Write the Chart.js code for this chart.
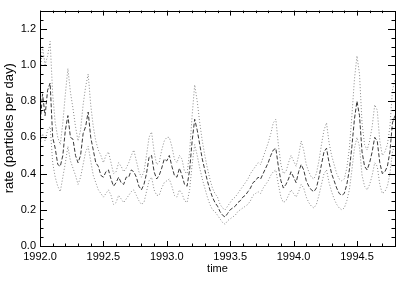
<!DOCTYPE html>
<html>
<head>
<meta charset="utf-8">
<script src="https://cdn.jsdelivr.net/npm/chart.js"></script>
<style>
html,body{margin:0;padding:0;background:#fff;}
#c{display:block;}
</style>
</head>
<body>
<canvas id="c" width="415" height="283" style="width:415px;height:283px"></canvas>
<script>
// time samples (years)
const years = [
1992.00,1992.02,1992.04,1992.06,1992.08,1992.10,1992.12,1992.14,1992.16,1992.18,
1992.20,1992.22,1992.24,1992.26,1992.28,1992.30,1992.32,1992.34,1992.36,1992.38,
1992.40,1992.42,1992.44,1992.46,1992.48,1992.50,1992.52,1992.54,1992.56,1992.58,
1992.60,1992.62,1992.64,1992.66,1992.68,1992.70,1992.72,1992.74,1992.76,1992.78,
1992.80,1992.82,1992.84,1992.86,1992.88,1992.90,1992.92,1992.94,1992.96,1992.98,
1993.00,1993.02,1993.04,1993.06,1993.08,1993.10,1993.12,1993.14,1993.16,1993.18,
1993.20,1993.22,1993.24,1993.26,1993.28,1993.30,1993.32,1993.34,1993.36,1993.38,
1993.40,1993.42,1993.44,1993.46,1993.48,1993.50,1993.52,1993.54,1993.56,1993.58,
1993.60,1993.62,1993.64,1993.66,1993.68,1993.70,1993.72,1993.74,1993.76,1993.78,
1993.80,1993.82,1993.84,1993.86,1993.88,1993.90,1993.92,1993.94,1993.96,1993.98,
1994.00,1994.02,1994.04,1994.06,1994.08,1994.10,1994.12,1994.14,1994.16,1994.18,
1994.20,1994.22,1994.24,1994.26,1994.28,1994.30,1994.32,1994.34,1994.36,1994.38,
1994.40,1994.42,1994.44,1994.46,1994.48,1994.50,1994.52,1994.54,1994.56,1994.58,
1994.60,1994.62,1994.64,1994.66,1994.68,1994.70,1994.72,1994.74,1994.76,1994.78,
1994.80];

// rate (particles per day) - central estimate (dashed)
const rate = [
0.66,0.84,0.72,0.86,0.90,0.60,0.54,0.45,0.44,0.50,
0.64,0.72,0.60,0.59,0.50,0.46,0.50,0.62,0.66,0.74,
0.60,0.53,0.46,0.44,0.39,0.38,0.41,0.42,0.37,0.33,
0.35,0.38,0.35,0.34,0.38,0.38,0.42,0.41,0.38,0.33,
0.31,0.34,0.40,0.49,0.50,0.41,0.37,0.39,0.43,0.48,
0.47,0.50,0.44,0.39,0.38,0.43,0.39,0.34,0.33,0.42,
0.58,0.70,0.64,0.56,0.48,0.42,0.36,0.31,0.27,0.24,
0.22,0.19,0.17,0.16,0.18,0.20,0.21,0.22,0.24,0.25,
0.27,0.28,0.30,0.32,0.35,0.36,0.38,0.37,0.40,0.43,
0.46,0.50,0.53,0.54,0.44,0.36,0.32,0.34,0.37,0.41,
0.38,0.35,0.41,0.45,0.42,0.36,0.33,0.31,0.30,0.32,
0.38,0.45,0.52,0.54,0.46,0.40,0.36,0.32,0.29,0.28,
0.29,0.34,0.42,0.55,0.70,0.80,0.72,0.52,0.44,0.42,
0.46,0.52,0.60,0.58,0.46,0.40,0.41,0.44,0.52,0.68,
0.72];

// upper bound (dotted)
const upper = [
0.95,1.10,1.00,1.05,1.13,0.84,0.68,0.60,0.56,0.68,
0.84,0.98,0.85,0.76,0.66,0.58,0.64,0.78,0.88,0.95,
0.78,0.66,0.58,0.53,0.50,0.46,0.50,0.52,0.46,0.40,
0.41,0.46,0.44,0.41,0.43,0.46,0.50,0.53,0.47,0.41,
0.38,0.41,0.50,0.60,0.63,0.52,0.45,0.46,0.53,0.58,
0.60,0.60,0.55,0.48,0.46,0.50,0.48,0.41,0.40,0.52,
0.72,0.89,0.80,0.68,0.58,0.50,0.43,0.37,0.32,0.29,
0.27,0.23,0.21,0.20,0.22,0.24,0.26,0.27,0.29,0.31,
0.33,0.35,0.37,0.40,0.42,0.44,0.46,0.45,0.49,0.53,
0.57,0.62,0.68,0.70,0.56,0.45,0.40,0.41,0.46,0.50,
0.47,0.44,0.50,0.58,0.53,0.45,0.41,0.38,0.37,0.40,
0.47,0.56,0.64,0.68,0.57,0.50,0.45,0.40,0.37,0.36,
0.37,0.43,0.54,0.72,0.92,1.05,0.95,0.68,0.56,0.53,
0.58,0.66,0.78,0.75,0.58,0.50,0.52,0.56,0.66,0.86,
0.92];

// lower bound (dotted)
const lower = [
0.56,0.62,0.58,0.64,0.66,0.46,0.38,0.33,0.30,0.38,
0.46,0.55,0.47,0.43,0.39,0.34,0.38,0.45,0.52,0.55,
0.47,0.39,0.35,0.31,0.29,0.27,0.29,0.31,0.28,0.23,
0.24,0.28,0.26,0.24,0.26,0.28,0.30,0.31,0.28,0.25,
0.23,0.24,0.30,0.36,0.38,0.31,0.28,0.28,0.32,0.35,
0.36,0.37,0.33,0.28,0.27,0.31,0.29,0.25,0.24,0.31,
0.45,0.56,0.50,0.43,0.37,0.32,0.27,0.23,0.20,0.19,
0.17,0.15,0.13,0.12,0.14,0.15,0.16,0.17,0.19,0.20,
0.21,0.22,0.23,0.25,0.28,0.29,0.30,0.29,0.32,0.34,
0.36,0.39,0.41,0.42,0.34,0.27,0.24,0.25,0.28,0.31,
0.29,0.27,0.30,0.34,0.32,0.27,0.24,0.22,0.21,0.23,
0.28,0.34,0.40,0.42,0.35,0.30,0.26,0.23,0.21,0.20,
0.21,0.25,0.31,0.42,0.54,0.60,0.55,0.39,0.33,0.31,
0.34,0.39,0.46,0.44,0.34,0.29,0.30,0.33,0.40,0.52,
0.56];

// axis ticks
const xMajorTicks = [1992.0, 1992.5, 1993.0, 1993.5, 1994.0, 1994.5];
const xMinorTicks = [1992.1,1992.2,1992.3,1992.4,1992.6,1992.7,1992.8,1992.9,1993.1,1993.2,1993.3,1993.4,1993.6,1993.7,1993.8,1993.9,1994.1,1994.2,1994.3,1994.4,1994.6,1994.7];
const yMajorTicks = [0.0, 0.2, 0.4, 0.6, 0.8, 1.0, 1.2];
const yMinorTicks = [0.05,0.10,0.15,0.25,0.30,0.35,0.45,0.50,0.55,0.65,0.70,0.75,0.85,0.90,0.95,1.05,1.10,1.15,1.25];
const xRange = [1992.0, 1994.8];
const yRange = [0.0, 1.3];

const pts = arr => arr.map((v, i) => ({x: years[i], y: v}));
const TICKFONT = {family: "'Liberation Sans', Arial, sans-serif", size: 11};
const TITLEFONT = {family: "'Liberation Sans', Arial, sans-serif", size: 11};
const YTITLEFONT = {family: "'Liberation Sans', Arial, sans-serif", size: 13};

const frameTicks = {
  id: 'frameTicks',
  afterDraw(chart) {
    const {ctx, chartArea: a, scales: {x, y}} = chart;
    ctx.save();
    ctx.strokeStyle = '#000';
    ctx.lineWidth = 1;
    ctx.strokeRect(Math.round(a.left) + 0.5, Math.round(a.top) + 0.5,
                   Math.round(a.right - a.left), Math.round(a.bottom - a.top));
    ctx.beginPath();
    const tx = (v, len) => {
      const px = Math.round(x.getPixelForValue(v)) + 0.5;
      ctx.moveTo(px, a.bottom); ctx.lineTo(px, a.bottom - len);
      ctx.moveTo(px, a.top); ctx.lineTo(px, a.top + len);
    };
    const ty = (v, len) => {
      const py = Math.round(y.getPixelForValue(v)) + 0.5;
      ctx.moveTo(a.left, py); ctx.lineTo(a.left + len, py);
      ctx.moveTo(a.right, py); ctx.lineTo(a.right - len, py);
    };
    xMajorTicks.forEach(v => tx(v, 5));
    xMinorTicks.forEach(v => tx(v, 2.5));
    yMajorTicks.forEach(v => ty(v, 7));
    yMinorTicks.forEach(v => ty(v, 3.5));
    ctx.stroke();
    ctx.restore();
  }
};

new Chart(document.getElementById('c'), {
  type: 'line',
  data: {
    datasets: [
      {data: pts(upper), borderColor: '#8a8a8a', borderWidth: 1, borderDash: [1, 2], pointRadius: 0, tension: 0},
      {data: pts(lower), borderColor: '#8a8a8a', borderWidth: 1, borderDash: [1, 2], pointRadius: 0, tension: 0},
      {data: pts(rate), borderColor: '#3a3a3a', borderWidth: 1, borderDash: [4, 2], pointRadius: 0, tension: 0}
    ]
  },
  options: {
    responsive: false,
    animation: false,
    devicePixelRatio: 1,
    layout: {padding: {top: 8, right: 20, left: 0, bottom: 0}},
    plugins: {legend: {display: false}, tooltip: {enabled: false}},
    scales: {
      x: {
        type: 'linear', min: xRange[0], max: xRange[1],
        grid: {display: false, drawTicks: false}, border: {display: false},
        ticks: {font: TICKFONT, color: '#000', padding: 4, maxRotation: 0, autoSkip: false,
                callback: v => Number(v).toFixed(1)},
        afterBuildTicks: s => { s.ticks = xMajorTicks.map(v => ({value: v})); },
        title: {display: true, text: 'time', font: TITLEFONT, color: '#000', padding: {top: 0, bottom: 7}},
        afterFit: s => { s.height = 37; }
      },
      y: {
        type: 'linear', min: yRange[0], max: yRange[1],
        grid: {display: false, drawTicks: false}, border: {display: false},
        ticks: {font: TICKFONT, color: '#000', padding: 4, autoSkip: false,
                callback: v => Number(v).toFixed(1)},
        afterBuildTicks: s => { s.ticks = yMajorTicks.map(v => ({value: v})); },
        title: {display: true, text: 'rate (particles per day)', font: YTITLEFONT, color: '#000', padding: {top: 2, bottom: 2}},
        afterFit: s => { s.width = 40; }
      }
    }
  },
  plugins: [frameTicks]
});
</script>
</body>
</html>
